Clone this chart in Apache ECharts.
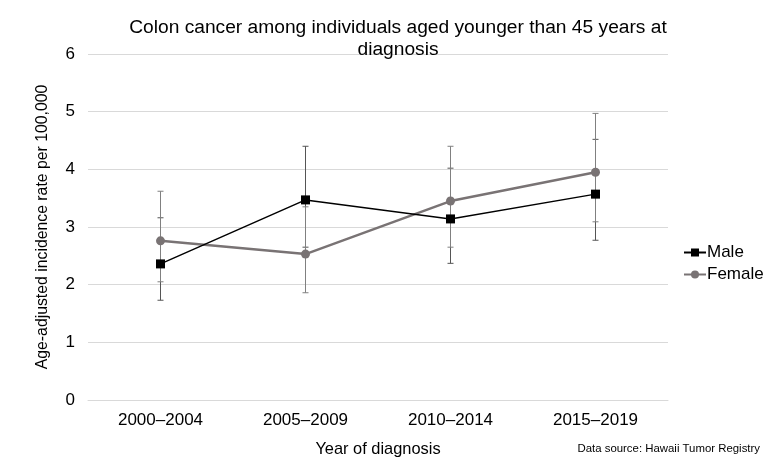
<!DOCTYPE html>
<html><head><meta charset="utf-8">
<script src="https://cdn.jsdelivr.net/npm/echarts@6/dist/echarts.min.js"></script>
<style>html,body{margin:0;padding:0;background:#fff}#c{width:768px;height:462px}</style>
</head><body><div id="c"></div>
<script>
const categories = ['2000–2004', '2005–2009', '2010–2014', '2015–2019'];
const maleRate = [2.36, 3.47, 3.14, 3.57];
const maleLow = [1.73, 2.65, 2.37, 2.77];
const maleHigh = [3.16, 4.40, 4.02, 4.52];
const femaleRate = [2.76, 2.53, 3.45, 3.95];
const femaleLow = [2.05, 1.86, 2.65, 3.09];
const femaleHigh = [3.62, 3.35, 4.40, 4.97];
const yTicks = [0, 1, 2, 3, 4, 5, 6];

const chart = echarts.init(document.getElementById('c'));
function errData(low, high) { return categories.map((c, i) => [i, low[i], high[i]]); }
function errSeries(name, low, high, color) {
  return {
    type: 'custom', name: name + ' CI', data: errData(low, high), z: 1, silent: true,
    renderItem: function (params, api) {
      const x = api.value(0);
      const lo = api.coord([x, api.value(1)]);
      const hi = api.coord([x, api.value(2)]);
      const w = 3;
      const st = { stroke: color, lineWidth: 1 };
      return { type: 'group', children: [
        { type: 'line', shape: { x1: lo[0], y1: lo[1], x2: hi[0], y2: hi[1] }, style: st },
        { type: 'line', shape: { x1: lo[0] - w, y1: lo[1], x2: lo[0] + w, y2: lo[1] }, style: st },
        { type: 'line', shape: { x1: hi[0] - w, y1: hi[1], x2: hi[0] + w, y2: hi[1] }, style: st }
      ]};
    }
  };
}
chart.setOption({
  animation: false,
  textStyle: { fontFamily: 'Liberation Sans, Arial, sans-serif' },
  title: {
    text: 'Colon cancer among individuals aged younger than 45 years at\ndiagnosis',
    left: 393, top: 12, textAlign: 'center',
    textStyle: { fontSize: 19.2, fontWeight: 'normal', color: '#000', lineHeight: 22 }
  },
  legend: {
    orient: 'vertical', left: 678, top: 239, itemGap: 5, itemWidth: 22, itemHeight: 10,
    data: ['Male', 'Female'],
    textStyle: { fontSize: 17, color: '#000', padding: [0, 0, 0, -4] }
  },
  graphic: [{
    type: 'text', right: 8, top: 443,
    style: { text: 'Data source: Hawaii Tumor Registry', fontSize: 11.4, fill: '#000', fontFamily: 'Liberation Sans, Arial, sans-serif' }
  }],
  grid: { left: 88, right: 100, top: 54, bottom: 62, containLabel: false },
  xAxis: {
    type: 'category', data: categories, boundaryGap: true,
    axisLine: { show: true, lineStyle: { color: '#d9d9d9' } },
    axisTick: { show: false },
    axisLabel: { fontSize: 17, color: '#000', margin: 12 },
    name: 'Year of diagnosis', nameLocation: 'middle', nameGap: 41,
    nameTextStyle: { fontSize: 16.4, color: '#000' }
  },
  yAxis: {
    type: 'value', min: 0, max: 6, interval: 1,
    axisLine: { show: false }, axisTick: { show: false },
    axisLabel: { fontSize: 17, color: '#000', margin: 13, formatter: v => yTicks.includes(v) ? String(v) : '' },
    splitLine: { lineStyle: { color: '#d9d9d9' } },
    name: 'Age-adjusted incidence rate per 100,000', nameLocation: 'middle', nameGap: 37,
    nameTextStyle: { fontSize: 15.8, color: '#000' }
  },
  series: [
    errSeries('Male', maleLow, maleHigh, '#555555'),
    errSeries('Female', femaleLow, femaleHigh, '#808080'),
    {
      name: 'Male', type: 'line', data: maleRate, z: 3,
      symbol: 'rect', symbolSize: 9,
      itemStyle: { color: '#000' }, lineStyle: { color: '#000', width: 1.5 }
    },
    {
      name: 'Female', type: 'line', data: femaleRate, z: 2,
      symbol: 'circle', symbolSize: 9,
      itemStyle: { color: '#797374' }, lineStyle: { color: '#797374', width: 2.5 }
    }
  ]
});
</script></body></html>
